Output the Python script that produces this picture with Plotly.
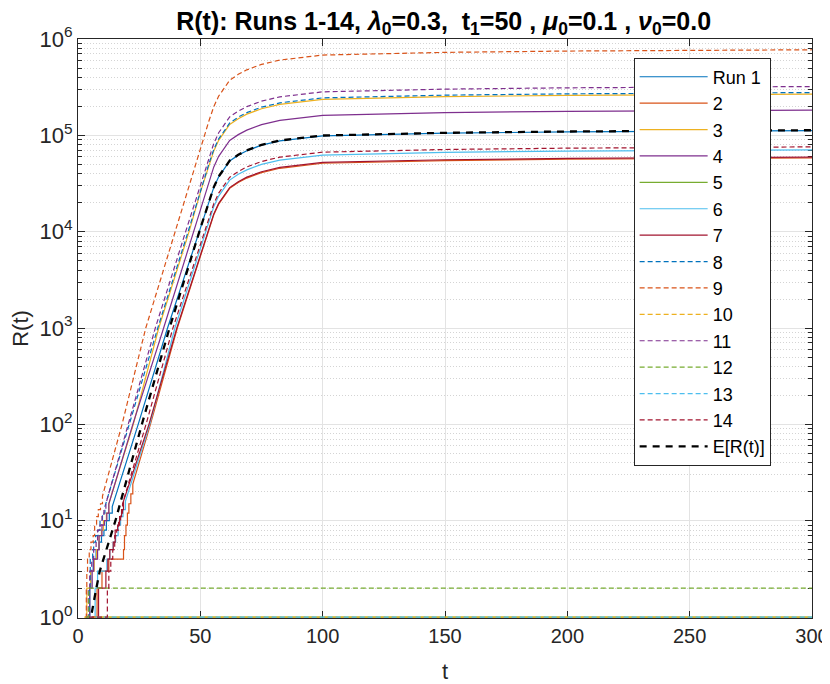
import plotly.graph_objects as go

# ---------------------------------------------------------------
# R(t).
# Each run: stochastic start (steps), exponential phase before t1=50,
# then values on a shared time grid after the intervention.
# ---------------------------------------------------------------
t_late = [50, 52, 53.5, 55.5, 57.5, 60, 62, 65.5, 69, 75, 82.5, 100, 150, 200, 300]

# run 1
steps_t01 = [3.6, 4.8, 5.2, 6.2, 7.4, 8.6, 9.6, 10.6, 11.6, 12.8, 14.0]
steps_r01 = [1, 2, 3, 4, 5, 6, 7, 8, 10, 12, 14]
grow_t01 = [24.6, 36.6]
grow_r01 = [100, 1000]
late_r01 = [10700, 15500, 20400, 28800, 37100, 45600, 54200, 62300, 69300, 79000, 87600, 98700, 105300, 108600, 112000]

# run 2
steps_t02 = [5.8, 7.8, 9.8, 12.6, 18.6, 19.0, 19.6, 20.2, 20.8, 21.6, 22.4]
steps_r02 = [1, 2, 3, 4, 5, 7, 9, 12, 15, 19, 24]
grow_t02 = [29.6, 40.6]
grow_r02 = [100, 1000]
late_r02 = [5560, 8030, 10600, 15000, 19300, 23700, 28200, 32400, 36000, 41000, 45500, 51300, 54700, 56500, 58200]

# run 3
steps_t03 = [2.9, 3.6, 5.2, 6.6, 7.6, 8.6, 9.6, 10.4, 11.6, 12.6]
steps_r03 = [1, 2, 3, 4, 5, 7, 8, 10, 12, 15]
grow_t03 = [22.6, 33.0, 45.4]
grow_r03 = [100, 1000, 10000]
late_r03 = [25600, 37000, 48800, 68900, 88700, 109100, 129700, 149000, 165900, 188900, 209600, 236100, 251900, 260000, 268000]

# run 4
steps_t04 = [3.8, 4.8, 5.8, 6.4, 8.0, 8.6, 9.8, 10.8, 11.8, 12.6]
steps_r04 = [1, 2, 3, 4, 5, 7, 9, 10, 12, 15]
grow_t04 = [22.4, 35.0, 47.2]
grow_r04 = [100, 1000, 10000]
late_r04 = [17500, 25300, 33300, 47000, 60600, 74500, 88600, 101700, 113300, 129000, 143100, 161200, 172000, 177500, 183000]

# run 5 (dies out)
steps_t05 = [6.2, 300]
steps_r05 = [1, 1]

# run 6
steps_t06 = [5.0, 7.0, 8.0, 11.8, 13.0, 14.4, 15.4, 16.4, 17.4, 18.4, 19.4]
steps_r06 = [1, 2, 3, 4, 5, 6, 7, 9, 11, 13, 16]
grow_t06 = [29.3, 39.6]
grow_r06 = [100, 1000]
late_r06 = [6760, 9770, 12900, 18200, 23400, 28800, 34300, 39400, 43800, 49900, 55400, 62400, 66600, 68700, 70800]

# run 7
steps_t07 = [5.6, 8.4, 11.4, 12.2, 13.0, 14.4, 15.2, 16.2, 17.0, 17.8, 18.6]
steps_r07 = [1, 2, 3, 4, 5, 6, 8, 9, 11, 13, 16]
grow_t07 = [29.0, 40.4]
grow_r07 = [100, 1000]
late_r07 = [5670, 8200, 10800, 15300, 19700, 24200, 28700, 33000, 36800, 41900, 46500, 52300, 55800, 57600, 59400]

# run 8
steps_t08 = [3.8, 4.6, 5.0, 6.0, 6.4, 7.2, 8.2, 9.0, 10.0, 11.0]
steps_r08 = [1, 2, 4, 5, 6, 7, 8, 10, 12, 14]
grow_t08 = [20.9, 32.6, 45.0]
grow_r08 = [100, 1000, 10000]
late_r08 = [26500, 38400, 50600, 71400, 92000, 113100, 134600, 154600, 172100, 196000, 217400, 244900, 261300, 269700, 278000]

# run 9
steps_t09 = [2.8, 3.4, 3.6, 3.9, 4.6, 5.3, 6.2, 6.8, 7.6, 8.3, 9.2, 10.0]
steps_r09 = [1, 2, 3, 4, 5, 6, 7, 9, 11, 13, 15, 18]
grow_t09 = [18.0, 27.7, 39.6]
grow_r09 = [100, 1000, 10000]
late_r09 = [73800, 106700, 140700, 198700, 255900, 314600, 374100, 429800, 478500, 545000, 604500, 681000, 726600, 749800, 773000]

# run 10 (dies out)
steps_t10 = [2.6, 300]
steps_r10 = [1, 1]

# run 11
steps_t11 = [3.3, 4.2, 4.8, 5.6, 6.4, 7.4, 8.0, 9.0, 9.8, 10.6, 11.4]
steps_r11 = [1, 2, 3, 4, 5, 6, 8, 9, 11, 13, 15]
grow_t11 = [20.6, 31.6, 44.0]
grow_r11 = [100, 1000, 10000]
late_r11 = [30700, 44300, 58400, 82500, 106300, 130600, 155400, 178500, 198700, 226300, 251000, 282800, 301700, 311400, 321000]

# run 12 (dies out at 2)
steps_t12 = [3.2, 4.4, 300]
steps_r12 = [1, 2, 2]

# run 13 (dies out)
steps_t13 = [7.2, 300]
steps_r13 = [1, 1]

# run 14
steps_t14 = [4.5, 12.0, 12.6, 13.4, 14.2, 15.0, 15.8, 16.6, 17.4, 18.2]
steps_r14 = [1, 2, 3, 4, 5, 7, 8, 10, 12, 15]
grow_t14 = [27.8, 38.8]
grow_r14 = [100, 1000]
late_r14 = [7250, 10500, 13800, 19500, 25100, 30900, 36700, 42200, 47000, 53500, 59400, 66900, 71300, 73600, 75900]

# expected value E[R(t)]
mean_t = [4.0, 5.3, 7.5, 8.9, 11.6, 15.3, 26.1, 37.4]
mean_r = [0.6, 1, 2, 3, 5, 10, 100, 1000]
late_mean = [10800, 15600, 20600, 29000, 37400, 46000, 54700, 62800, 69900, 79700, 88400, 99600, 106200, 109600, 113000]

legend_names = ['Run 1', '2', '3', '4', '5', '6', '7', '8', '9', '10', '11', '12', '13', '14']
x_tick_vals = [0, 50, 100, 150, 200, 250, 300]
y_tick_vals = [1, 10, 100, 1000, 10000, 100000, 1000000]
y_tick_text = ['10<sup>0</sup>', '10<sup>1</sup>', '10<sup>2</sup>', '10<sup>3</sup>',
               '10<sup>4</sup>', '10<sup>5</sup>', '10<sup>6</sup>']

matlab_colors = ['#0072BD', '#D95319', '#EDB120', '#7E2F8E', '#77AC30', '#4DBEEE', '#A2142F']

runs = [
    (steps_t01, steps_r01, grow_t01, grow_r01, late_r01),
    (steps_t02, steps_r02, grow_t02, grow_r02, late_r02),
    (steps_t03, steps_r03, grow_t03, grow_r03, late_r03),
    (steps_t04, steps_r04, grow_t04, grow_r04, late_r04),
    (steps_t05, steps_r05, [], [], None),
    (steps_t06, steps_r06, grow_t06, grow_r06, late_r06),
    (steps_t07, steps_r07, grow_t07, grow_r07, late_r07),
    (steps_t08, steps_r08, grow_t08, grow_r08, late_r08),
    (steps_t09, steps_r09, grow_t09, grow_r09, late_r09),
    (steps_t10, steps_r10, [], [], None),
    (steps_t11, steps_r11, grow_t11, grow_r11, late_r11),
    (steps_t12, steps_r12, [], [], None),
    (steps_t13, steps_r13, [], [], None),
    (steps_t14, steps_r14, grow_t14, grow_r14, late_r14),
]


def stairs(ts, rs):
    # jump process: hold previous value until the next event time
    xs, ys = [], []
    for i in range(len(ts)):
        if i > 0:
            xs.append(ts[i]); ys.append(rs[i - 1])
        xs.append(ts[i]); ys.append(rs[i])
    return xs, ys


fig = go.Figure()

for k, (st, sr, gt, gr, lr) in enumerate(runs):
    xs, ys = stairs(st, sr)
    xs = xs + gt
    ys = ys + gr
    if lr is not None:
        xs = xs + t_late
        ys = ys + lr
    fig.add_trace(go.Scatter(
        x=xs, y=ys, mode='lines', name=legend_names[k],
        line=dict(color=matlab_colors[k % 7], width=1.2,
                  dash='solid' if k < 7 else '5px,3px'),
    ))

fig.add_trace(go.Scatter(
    x=mean_t + t_late, y=mean_r + late_mean, mode='lines', name='E[R(t)]',
    line=dict(color='black', width=2.3, dash='7px,6px'),
))

axis_col = '#262626'
grid_col = '#e3e3e3'
font = 'Liberation Sans, Arial, Helvetica, sans-serif'

# page body has an 8px margin, so the figure is sized/placed to compensate
fig.update_layout(
    width=822, height=676,
    margin=dict(l=70, r=18, t=31, b=66, autoexpand=False),
    paper_bgcolor='white', plot_bgcolor='white',
    font=dict(family=font, size=20, color=axis_col),
    title=dict(
        text='<b>R(t): Runs 1-14, <i>λ</i><sub>0</sub>=0.3,  t<sub>1</sub>=50 , '
             '<i>μ</i><sub>0</sub>=0.1 , <i>ν</i><sub>0</sub>=0.0</b>',
        x=0.53, xanchor='center', y=0.994, yanchor='top',
        font=dict(size=25, color='black'),
    ),
    showlegend=True,
    legend=dict(
        x=0.757, y=0.968, xanchor='left', yanchor='top',
        bgcolor='white', bordercolor=axis_col, borderwidth=1,
        font=dict(size=18, color='black'), itemwidth=68,
        tracegroupgap=0,
    ),
)

fig.update_xaxes(
    range=[0, 300], tickvals=x_tick_vals, automargin=False,
    showline=True, linecolor=axis_col, linewidth=1, mirror='ticks',
    ticks='inside', ticklen=7, tickcolor=axis_col, tickfont=dict(size=20),
    showgrid=True, gridcolor=grid_col, gridwidth=1, zeroline=False,
    layer='below traces',
    title=dict(text='t', font=dict(size=22), standoff=18),
)

fig.update_yaxes(
    type='log', range=[-0.01, 6], tickvals=y_tick_vals, ticktext=y_tick_text,
    automargin=False,
    showline=True, linecolor=axis_col, linewidth=1, mirror='ticks',
    ticks='inside', ticklen=7, tickcolor=axis_col, tickfont=dict(size=22),
    showgrid=True, gridcolor=grid_col, gridwidth=1, zeroline=False,
    layer='below traces',
    minor=dict(dtick='D1', ticks='inside', ticklen=4, tickcolor=axis_col,
               showgrid=True, gridcolor='#d4d4d4', griddash='1px,2px', gridwidth=1),
    title=dict(text='R(t)', font=dict(size=22), standoff=20),
)

fig.write_html('out.html')
